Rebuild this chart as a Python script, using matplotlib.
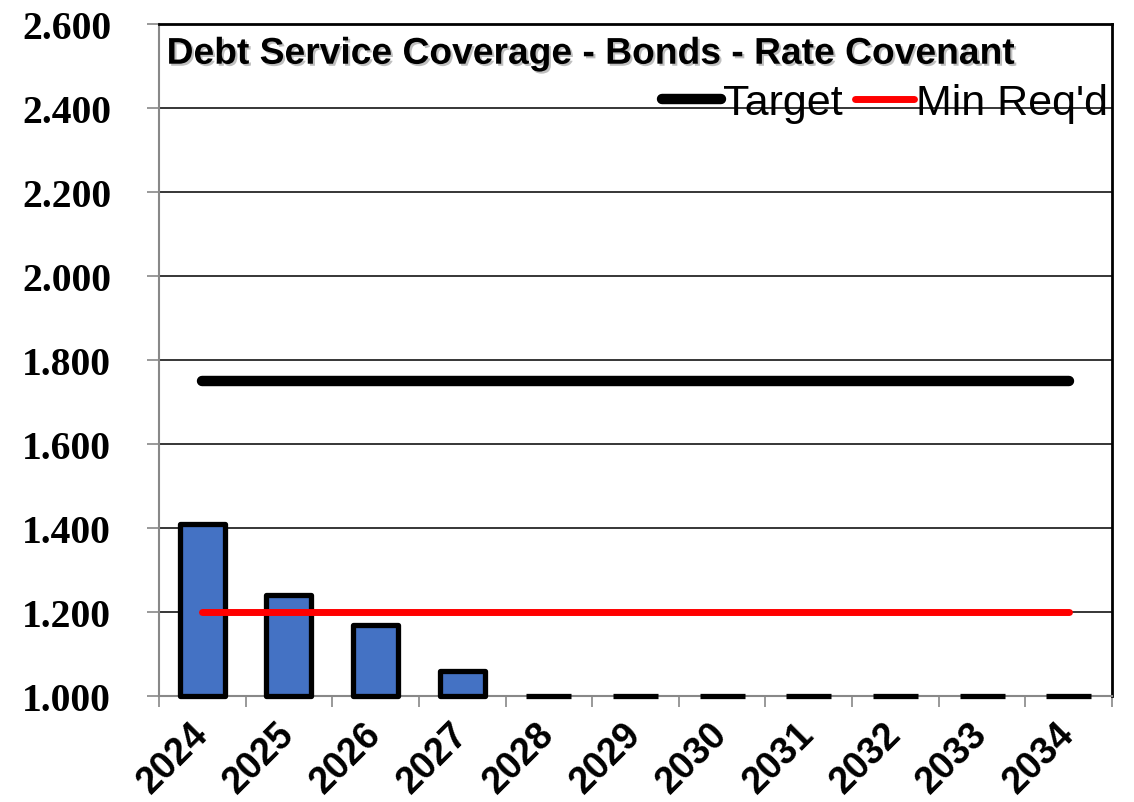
import numpy as np
import matplotlib
matplotlib.use("Agg")
import matplotlib.pyplot as plt
import matplotlib.patheffects as pe

# data
years = ['2024', '2025', '2026', '2027', '2028', '2029', '2030',
         '2031', '2032', '2033', '2034']
coverage = [1.41, 1.24, 1.17, 1.06, 1.0, 1.0, 1.0, 1.0, 1.0, 1.0, 1.0]
target = [1.75] * len(years)
min_req = [1.20] * len(years)
y_ticks = [1.0, 1.2, 1.4, 1.6, 1.8, 2.0, 2.2, 2.4, 2.6]

y_min, y_max = 1.0, 2.6

fig = plt.figure(figsize=(11.34, 8.03), dpi=100)
ax = fig.add_axes([0.1402, 0.132, 0.8404, 0.8369])

x = np.arange(len(years))
heights = np.array(coverage) - y_min
bars = ax.bar(x, heights, bottom=y_min, width=0.52, color='#4472C4',
              edgecolor='black', linewidth=3.8, zorder=3)
for b in bars:
    b.set_joinstyle('round')
    b.set_clip_on(False)

ax.plot(x, target, color='black', linewidth=7.5, solid_capstyle='round',
        label='Target', zorder=4)
ax.plot(x, min_req, color='#FF0000', linewidth=5, solid_capstyle='round',
        label="Min Req'd", zorder=4)

ax.set_xlim(-0.5, len(years) - 0.5)
ax.set_ylim(y_min, y_max)

# y axis
ax.set_yticks(y_ticks)
ax.set_yticklabels([f'{v:.3f}' for v in y_ticks],
                   fontfamily='Liberation Serif', fontweight='bold', fontsize=28.5)
ax.tick_params(axis='y', direction='out', length=8.5, width=1.2,
               color='#888888', pad=26)
ax.yaxis.grid(True, color='black', linewidth=1.1, zorder=0)
ax.set_axisbelow(True)

# x axis
ax.set_xticks(x)
ax.set_xticklabels(years, rotation=45, ha='right', va='center',
                   rotation_mode='anchor',
                   fontfamily='Liberation Sans', fontweight='bold', fontsize=27)
ax.tick_params(axis='x', which='major', length=0, pad=23)
ax.set_xticks(np.arange(len(years) + 1) - 0.5, minor=True)
ax.tick_params(axis='x', which='minor', direction='out', length=8,
               width=1.2, color='#888888')

for side in ['left', 'bottom']:
    ax.spines[side].set_color('#888888')
    ax.spines[side].set_linewidth(1.5)
for side in ['top', 'right']:
    ax.spines[side].set_color('black')
    ax.spines[side].set_linewidth(2)

ax.text(0.008, 0.955, 'Debt Service Coverage - Bonds - Rate Covenant',
        transform=ax.transAxes, ha='left', va='center',
        fontfamily='Liberation Sans', fontweight='bold', fontsize=26.8,
        path_effects=[pe.SimplePatchShadow(offset=(1.5, -1.5), alpha=0.25),
                      pe.Normal()], zorder=5)

leg = ax.legend(loc='center right', bbox_to_anchor=(1.0, 0.883), ncol=2,
                frameon=False, prop={'family': 'Liberation Sans', 'size': 31},
                handlelength=1.35, handletextpad=0.05, columnspacing=0.3,
                borderpad=0, borderaxespad=0.1)

fig.savefig('out.png', dpi=100, facecolor='white')
